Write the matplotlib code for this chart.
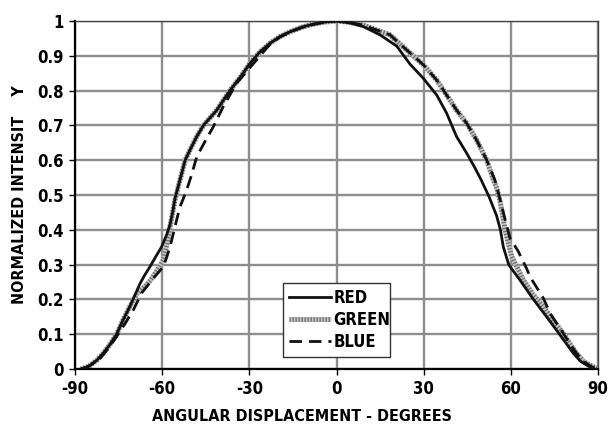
import matplotlib
matplotlib.use("Agg")
import matplotlib.pyplot as plt
from matplotlib import font_manager as fm
from matplotlib.legend_handler import HandlerTuple

# ---- data ----
red_x = [-88, -85.4, -82.5, -80.3, -78, -75.7, -73.5, -71.1, -69.5, -67.6, -66, -64.2, -62.2, -60.2,
         -58.5, -57.3, -56.4, -55.6, -53.9, -52.1, -50.4, -48.1, -45.8, -41.2, -36.7, -33, -29.8,
         -26.5, -22.9, -19.5, -16, -12, -8, -4, 0,
         4.8, 9.2, 15, 20.7, 25.3, 29.9, 34.5, 37.9, 41.3, 44.8, 47.5, 49.8, 52.5, 55.1, 56.4,
         57.4, 59.3, 63.1, 67.5, 72.3, 76.9, 81.5, 84, 86.1, 88.5]
red_y = [0.0, 0.007, 0.025, 0.045, 0.07, 0.10, 0.14, 0.18, 0.21, 0.246, 0.27, 0.294, 0.323, 0.351,
         0.385, 0.415, 0.45, 0.49, 0.543, 0.60, 0.63, 0.668, 0.70, 0.744, 0.80, 0.84, 0.878,
         0.91, 0.936, 0.955, 0.969, 0.982, 0.991, 0.997, 1.0,
         0.994, 0.984, 0.96, 0.928, 0.876, 0.835, 0.787, 0.735, 0.668, 0.62, 0.58, 0.543, 0.495, 0.44, 0.40,
         0.351, 0.299, 0.256, 0.203, 0.15, 0.098, 0.045, 0.022, 0.011, 0.0]

green_x = [-88, -85.4, -82.5, -80.3, -78, -75.7, -73.5, -71.1, -68.8, -66.5, -64, -62, -59.6, -58.3,
           -57.3, -56.4, -55.6, -53.9, -52.1, -50.4, -48.1, -45.8, -41.2, -36.7, -33, -29.8,
           -26.5, -22.9, -19.5, -16, -12, -8, -4, 0,
           4, 9.2, 13.5, 18.4, 24.1, 29.9, 34.5, 37.9, 41.3, 44.8, 48.2, 51.7, 54, 55.1, 56.2,
           57, 58, 60.3, 62.3, 64.3, 67.5, 71.2, 74.5, 78, 80.5, 82.6, 85, 87.2, 90]
green_y = [0.0, 0.007, 0.025, 0.045, 0.07, 0.10, 0.14, 0.18, 0.215, 0.232, 0.255, 0.28, 0.313, 0.36,
           0.409, 0.45, 0.486, 0.543, 0.60, 0.63, 0.668, 0.70, 0.744, 0.80, 0.84, 0.878,
           0.91, 0.936, 0.955, 0.969, 0.982, 0.991, 0.997, 1.0,
           0.997, 0.988, 0.975, 0.96, 0.917, 0.874, 0.83, 0.787, 0.744, 0.706, 0.658, 0.60, 0.543, 0.52, 0.486,
           0.45, 0.40, 0.323, 0.29, 0.256, 0.215, 0.179, 0.14, 0.103, 0.07, 0.045, 0.022, 0.011, 0.0]

blue_x = [-87.1, -84.5, -81.4, -78.5, -75.7, -72.8, -69.9, -67.1, -63.1, -59.6, -58.5, -57.3, -55.6,
          -53.9, -52.7, -51.6, -50, -48.1, -45.2, -42.4, -39, -34.4, -29.8, -26, -22.9, -19.5, -16,
          -12, -8, -4, 0,
          4, 9.2, 13.5, 18.4, 24.1, 29.9, 34.5, 37.9, 41.3, 44.8, 48.2, 51.7, 54.5, 56.2, 58,
          59.7, 62.6, 65.4, 66.6, 71.2, 73.5, 78, 80.5, 82.6, 85, 87.5, 89.5]
blue_y = [0.0, 0.012, 0.03, 0.06, 0.093, 0.13, 0.17, 0.218, 0.26, 0.294, 0.32, 0.351, 0.409,
          0.466, 0.49, 0.514, 0.555, 0.61, 0.655, 0.696, 0.754, 0.821, 0.866, 0.903, 0.933, 0.954, 0.968,
          0.981, 0.99, 0.997, 1.0,
          0.997, 0.988, 0.975, 0.96, 0.917, 0.874, 0.83, 0.787, 0.744, 0.706, 0.658, 0.60, 0.543, 0.49, 0.43,
          0.376, 0.337, 0.289, 0.265, 0.203, 0.16, 0.103, 0.07, 0.045, 0.022, 0.008, 0.0]

x_ticks = [-90, -60, -30, 0, 30, 60, 90]
x_tick_labels = ["-90", "-60", "-30", "0", "30", "60", "90"]
y_ticks = [0, 0.1, 0.2, 0.3, 0.4, 0.5, 0.6, 0.7, 0.8, 0.9, 1.0]
y_tick_labels = ["0", "0.1", "0.2", "0.3", "0.4", "0.5", "0.6", "0.7", "0.8", "0.9", "1"]
series_names = ["RED", "GREEN", "BLUE"]

# ---- font: prefer a narrow / condensed bold face ----
names = {f.name for f in fm.fontManager.ttflist}
stretches = {(f.name, f.stretch) for f in fm.fontManager.ttflist}
fam = 'DejaVu Sans'
stretch = 'normal'
if 'Liberation Sans Narrow' in names:
    fam = 'Liberation Sans Narrow'
elif ('DejaVu Sans', 'condensed') in stretches or ('DejaVu Sans', 'semi-condensed') in stretches:
    fam = 'DejaVu Sans'
    stretch = 'condensed' if ('DejaVu Sans', 'condensed') in stretches else 'semi-condensed'
elif 'DejaVu Sans Condensed' in names:
    fam = 'DejaVu Sans Condensed'
plt.rcParams['font.family'] = [fam, 'DejaVu Sans']
plt.rcParams['font.stretch'] = stretch
plt.rcParams['font.weight'] = 'bold'
FS_TICK = 12
FS_LABEL = 11.5
FS_LEG = 12

fig = plt.figure(figsize=(6.08, 4.30), dpi=100)
ax = fig.add_axes([0.1234, 0.1419, 0.8602, 0.8093])

ax.set_xlim(-90, 90)
ax.set_ylim(0, 1)
ax.set_xticks(x_ticks)
ax.set_xticklabels(x_tick_labels)
ax.set_yticks(y_ticks)
ax.set_yticklabels(y_tick_labels)
ax.grid(True, color='#8e8e8e', linewidth=1.7)
ax.set_axisbelow(True)

for s in ['left', 'bottom']:
    ax.spines[s].set_color('black')
    ax.spines[s].set_linewidth(1.6)
for s in ['top', 'right']:
    ax.spines[s].set_color('#444444')
    ax.spines[s].set_linewidth(1.0)

ax.tick_params(axis='both', direction='out', length=4, width=1.0, color='black',
               labelsize=FS_TICK, pad=4)
for lab in ax.get_xticklabels() + ax.get_yticklabels():
    lab.set_fontweight('bold')

g1, = ax.plot(green_x, green_y, color='#c4c4c4', linewidth=3.6, solid_capstyle='butt', zorder=2)
g2, = ax.plot(green_x, green_y, color='#6e6e6e', linewidth=3.6,
              linestyle=(0, (0.25, 0.35)), dash_capstyle='butt', zorder=2)
r, = ax.plot(red_x, red_y, color='#111111', linewidth=2.0, zorder=3)
b, = ax.plot(blue_x, blue_y, color='#111111', linewidth=2.0,
             linestyle=(0, (4.5, 2.5)), zorder=3)

leg = ax.legend([r, (g1, g2), b], series_names,
                handler_map={tuple: HandlerTuple(ndivide=1)},
                loc='lower left', bbox_to_anchor=(0.398, 0.034, 0.204, 0.23),
                mode='expand', frameon=True, fancybox=False, framealpha=1,
                edgecolor='#333333', fontsize=FS_LEG, handlelength=2.5,
                handletextpad=0.15, borderpad=0.35, labelspacing=0.25, borderaxespad=0)
leg.get_frame().set_linewidth(1.0)
for t in leg.get_texts():
    t.set_fontweight('bold')

ax.set_xlabel("ANGULAR DISPLACEMENT - DEGREES", fontsize=FS_LABEL, fontweight='bold')
ax.xaxis.set_label_coords(0.433, -0.115)
ax.set_ylabel("NORMALIZED INTENSIT    Y", fontsize=FS_LABEL, fontweight='bold')
ax.yaxis.set_label_coords(-0.092, 0.5)

fig.savefig("out.png", dpi=100)
